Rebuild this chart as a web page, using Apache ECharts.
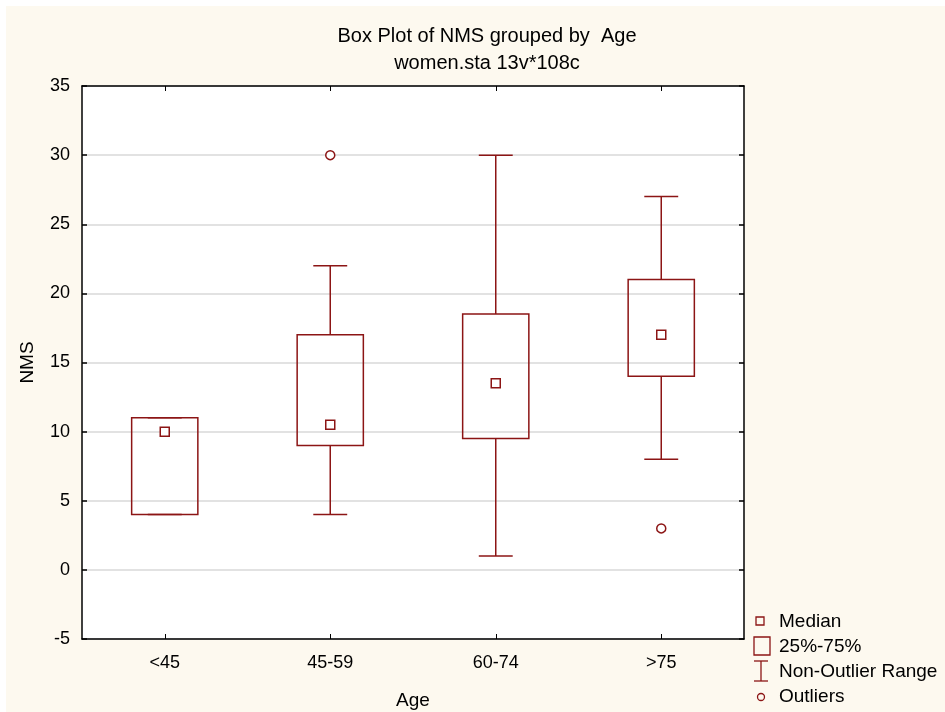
<!DOCTYPE html>
<html>
<head>
<meta charset="utf-8">
<script src="https://cdn.jsdelivr.net/npm/echarts@6/dist/echarts.min.js"></script>
<style>
html,body{margin:0;padding:0;background:#ffffff;}
#wrap{position:absolute;left:6px;top:6px;width:939px;height:706px;background:#fdf9ef;}
#chart{position:absolute;left:0;top:0;width:945px;height:712px;}
</style>
</head>
<body>
<div id="wrap"></div>
<div id="chart"></div>
<script>
var categories = ['<45', '45-59', '60-74', '>75'];
var q1Values = [4, 9, 9.5, 14];
var q3Values = [11, 17, 18.5, 21];
var medianValues = [10, 10.5, 13.5, 17];
var whiskerLow = [4, 4, 1, 8];
var whiskerHigh = [11, 22, 30, 27];
var outlierPoints = [[1, 30], [3, 3]];
var yTicks = {min: -5, max: 35, interval: 5};

var RED = '#8c1515';
var FONT = '"Liberation Sans", Arial, sans-serif';

var boxData = categories.map(function (c, i) { return [i, q1Values[i], q3Values[i]]; });
var whiskerData = categories.map(function (c, i) { return [i, whiskerLow[i], whiskerHigh[i], q1Values[i], q3Values[i]]; });
var medianData = categories.map(function (c, i) { return [i, medianValues[i]]; });

var chart = echarts.init(document.getElementById('chart'), null, {renderer: 'canvas'});

function renderBox(params, api) {
  var x = api.value(0);
  var lo = api.coord([x, api.value(1)]);
  var hi = api.coord([x, api.value(2)]);
  var bw = api.size([1, 0])[0] * 0.4;
  return {
    type: 'rect',
    shape: {x: lo[0] - bw / 2, y: hi[1], width: bw, height: lo[1] - hi[1]},
    style: {fill: 'none', stroke: RED, lineWidth: 1.5}
  };
}

function renderWhisker(params, api) {
  var x = api.value(0);
  var pl = api.coord([x, api.value(1)]);
  var ph = api.coord([x, api.value(2)]);
  var pq1 = api.coord([x, api.value(3)]);
  var pq3 = api.coord([x, api.value(4)]);
  var cw = api.size([1, 0])[0] * 0.205;
  var st = {stroke: RED, lineWidth: 1.5};
  return {
    type: 'group',
    children: [
      {type: 'line', shape: {x1: pl[0], y1: pl[1], x2: pq1[0], y2: pq1[1]}, style: st},
      {type: 'line', shape: {x1: ph[0], y1: ph[1], x2: pq3[0], y2: pq3[1]}, style: st},
      {type: 'line', shape: {x1: pl[0] - cw / 2, y1: pl[1], x2: pl[0] + cw / 2, y2: pl[1]}, style: st},
      {type: 'line', shape: {x1: ph[0] - cw / 2, y1: ph[1], x2: ph[0] + cw / 2, y2: ph[1]}, style: st}
    ]
  };
}

var axisLineStyle = {show: true, onZero: false, lineStyle: {color: '#000', width: 1.5}};
var axisLabelStyle = {color: '#000', fontSize: 18, fontFamily: FONT};

var option = {
  backgroundColor: 'transparent',
  animation: false,
  title: [
    {text: 'Box Plot of NMS grouped by  Age', left: 482, top: 21, textAlign: 'center',
     textStyle: {fontSize: 20, fontWeight: 'normal', color: '#000', fontFamily: FONT}},
    {text: 'women.sta 13v*108c', left: 482, top: 48, textAlign: 'center',
     textStyle: {fontSize: 20, fontWeight: 'normal', color: '#000', fontFamily: FONT}}
  ],
  grid: {left: 82, top: 86, right: 201, bottom: 73, containLabel: false, outerBoundsMode: 'none',
         show: true, backgroundColor: '#ffffff', borderWidth: 0},
  xAxis: [
    {type: 'category', data: categories, position: 'bottom', boundaryGap: true,
     name: 'Age', nameLocation: 'middle', nameGap: 52,
     nameTextStyle: {color: '#000', fontSize: 19, fontFamily: FONT},
     axisLine: axisLineStyle,
     axisTick: {show: true, inside: true, alignWithLabel: true, length: 5, lineStyle: {color: '#000', width: 1}},
     axisLabel: Object.assign({margin: 15}, axisLabelStyle),
     splitLine: {show: false}},
    {type: 'category', data: categories, position: 'top', boundaryGap: true,
     axisLine: axisLineStyle,
     axisTick: {show: true, inside: true, alignWithLabel: true, length: 5, lineStyle: {color: '#000', width: 1}},
     axisLabel: {show: false}, splitLine: {show: false}}
  ],
  yAxis: [
    {type: 'value', min: yTicks.min, max: yTicks.max, interval: yTicks.interval, position: 'left',
     name: 'NMS', nameLocation: 'middle', nameGap: 45, nameRotate: 90,
     nameTextStyle: {color: '#000', fontSize: 19, fontFamily: FONT},
     axisLine: axisLineStyle,
     axisTick: {show: true, inside: true, length: 5, lineStyle: {color: '#000', width: 1.5}},
     axisLabel: Object.assign({margin: 12}, axisLabelStyle),
     splitLine: {show: true, lineStyle: {color: '#d9d9d9', width: 1.5}}},
    {type: 'value', min: yTicks.min, max: yTicks.max, interval: yTicks.interval, position: 'right',
     axisLine: axisLineStyle,
     axisTick: {show: true, inside: true, length: 5, lineStyle: {color: '#000', width: 1.5}},
     axisLabel: {show: false}, splitLine: {show: false}}
  ],
  series: [
    {name: '25%-75%', type: 'custom', renderItem: renderBox, data: boxData, encode: {x: 0, y: [1, 2]}, z: 3},
    {name: 'Non-Outlier Range', type: 'custom', renderItem: renderWhisker, data: whiskerData, encode: {x: 0, y: [1, 2]}, z: 3},
    {name: 'Median', type: 'scatter', data: medianData, symbol: 'rect', symbolSize: 9,
     itemStyle: {color: '#fff', borderColor: RED, borderWidth: 1.5, opacity: 1}, z: 4},
    {name: 'Outliers', type: 'scatter', data: outlierPoints, symbol: 'circle', symbolSize: 9,
     itemStyle: {color: '#fff', borderColor: RED, borderWidth: 1.5, opacity: 1}, z: 4}
  ],
  graphic: [
    {type: 'rect', shape: {x: 756, y: 617, width: 8, height: 8}, style: {fill: 'none', stroke: RED, lineWidth: 1.3}},
    {type: 'text', x: 779, y: 622, style: {text: 'Median', fill: '#000', font: '19px ' + FONT, textVerticalAlign: 'middle'}},
    {type: 'rect', shape: {x: 754, y: 637, width: 16, height: 18}, style: {fill: 'none', stroke: RED, lineWidth: 1.3}},
    {type: 'text', x: 779, y: 647, style: {text: '25%-75%', fill: '#000', font: '19px ' + FONT, textVerticalAlign: 'middle'}},
    {type: 'polyline', shape: {points: [[754, 661], [768, 661]]}, style: {stroke: RED, lineWidth: 1.3}},
    {type: 'polyline', shape: {points: [[761, 661], [761, 681]]}, style: {stroke: RED, lineWidth: 1.3}},
    {type: 'polyline', shape: {points: [[754, 681], [768, 681]]}, style: {stroke: RED, lineWidth: 1.3}},
    {type: 'text', x: 779, y: 672, style: {text: 'Non-Outlier Range', fill: '#000', font: '19px ' + FONT, textVerticalAlign: 'middle'}},
    {type: 'circle', shape: {cx: 761, cy: 697, r: 3.5}, style: {fill: 'none', stroke: RED, lineWidth: 1.3}},
    {type: 'text', x: 779, y: 697, style: {text: 'Outliers', fill: '#000', font: '19px ' + FONT, textVerticalAlign: 'middle'}}
  ]
};
chart.setOption(option);
</script>
</body>
</html>
